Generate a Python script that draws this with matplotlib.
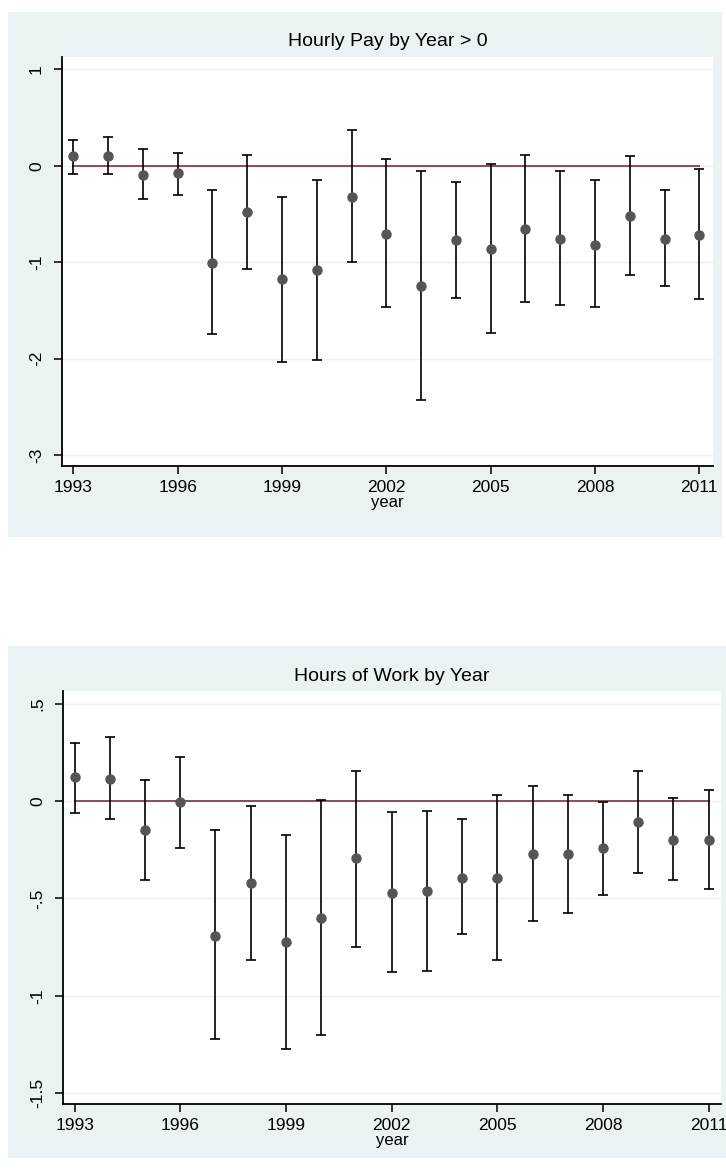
import matplotlib
matplotlib.use("Agg")
import matplotlib.pyplot as plt
from matplotlib.patches import Rectangle
import numpy as np

years = list(range(1993, 2012))

pay_coef = [0.097, 0.10, -0.10, -0.08, -1.007, -0.483, -1.18, -1.08, -0.32, -0.706,
            -1.245, -0.773, -0.866, -0.654, -0.755, -0.818, -0.52, -0.755, -0.714]
pay_upper = [0.27, 0.30, 0.17, 0.13, -0.25, 0.115, -0.32, -0.15, 0.37, 0.067,
             -0.056, -0.171, 0.015, 0.115, -0.056, -0.152, 0.097, -0.253, -0.033]
pay_lower = [-0.09, -0.09, -0.35, -0.30, -1.75, -1.067, -2.04, -2.02, -1.00, -1.468,
             -2.435, -1.368, -1.74, -1.416, -1.45, -1.468, -1.138, -1.249, -1.387]

hrs_coef = [0.125, 0.115, -0.149, -0.004, -0.693, -0.423, -0.724, -0.599, -0.295, -0.47,
            -0.46, -0.393, -0.393, -0.27, -0.274, -0.241, -0.11, -0.198, -0.20]
hrs_upper = [0.30, 0.327, 0.106, 0.227, -0.149, -0.025, -0.174, 0.006, 0.155, -0.059,
             -0.051, -0.094, 0.031, 0.078, 0.031, -0.004, 0.155, 0.014, 0.057]
hrs_lower = [-0.06, -0.092, -0.403, -0.239, -1.223, -0.814, -1.272, -1.20, -0.748, -0.879,
             -0.871, -0.683, -0.814, -0.616, -0.575, -0.485, -0.372, -0.403, -0.452]

xticks = [1993, 1996, 1999, 2002, 2005, 2008, 2011]
pay_yticks = [1, 0, -1, -2, -3]
pay_ylabels = ["1", "0", "-1", "-2", "-3"]
hrs_yticks = [0.5, 0, -0.5, -1, -1.5]
hrs_ylabels = [".5", "0", "-.5", "-1", "-1.5"]

W, H = 726, 1169
BG = "#EAF2F3"
plt.rcParams['font.family'] = ['Liberation Sans', 'DejaVu Sans']

fig = plt.figure(figsize=(W / 100, H / 100), dpi=100)
fig.patch.set_facecolor("white")

def px_rect(x0, y0, x1, y1):
    return [x0 / W, 1 - y1 / H, (x1 - x0) / W, (y1 - y0) / H]

# panel backgrounds
for (x0, y0, x1, y1) in [(8, 12, 722, 537), (8, 646, 726, 1158)]:
    fig.patches.append(Rectangle((x0 / W, 1 - y1 / H), (x1 - x0) / W, (y1 - y0) / H,
                                 transform=fig.transFigure, facecolor=BG,
                                 edgecolor="none", zorder=-5))

def panel(rect, coef, lo, hi, yt, ylab, ylim, xlim, title, title_y):
    ax = fig.add_axes(px_rect(*rect))
    ax.set_zorder(1)
    ax.set_facecolor("white")
    for yv in yt:
        ax.axhline(yv, color=BG, lw=1.0, zorder=1)
    ax.plot([years[0], years[-1]], [0, 0], color="#8E4B57", lw=1.4, zorder=2)
    c = np.array(coef)
    yerr = np.array([c - np.array(lo), np.array(hi) - c])
    ax.errorbar(years, coef, yerr=yerr, fmt="none", ecolor="black",
                elinewidth=1.2, capsize=3.3, capthick=1.2, zorder=3)
    ax.plot(years, coef, "o", color="#555555", ms=6.5, mec="#555555", zorder=4)
    ax.set_xlim(*xlim)
    ax.set_ylim(*ylim)
    ax.set_xticks(xticks)
    ax.set_xticklabels([str(x) for x in xticks], fontsize=12.5)
    ax.set_yticks(yt)
    ax.set_yticklabels(ylab, fontsize=12.5, rotation=90, va="center")
    ax.tick_params(axis="both", direction="out", length=6, width=1.1, color="black")
    ax.tick_params(axis="x", pad=4)
    ax.tick_params(axis="y", pad=7)
    for s in ["top", "right"]:
        ax.spines[s].set_visible(False)
    for s in ["left", "bottom"]:
        ax.spines[s].set_linewidth(1.3)
    ax.set_xlabel("year", fontsize=12, labelpad=0)
    cx = (rect[0] + rect[2]) / 2 / W
    fig.text(cx, 1 - title_y / H, title, ha="center", va="center", fontsize=14)
    return ax

panel((62, 56.7, 712.7, 466), pay_coef, pay_lower, pay_upper, pay_yticks, pay_ylabels,
      (-3.115, 1.131), (1992.675, 2011.385), "Hourly Pay by Year > 0", 41.7)
panel((63.3, 690.7, 721, 1104), hrs_coef, hrs_lower, hrs_upper, hrs_yticks, hrs_ylabels,
      (-1.555, 0.566), (1992.68, 2011.35), "Hours of Work by Year", 676.7)

fig.savefig("out.png", dpi=100, facecolor=fig.get_facecolor())
